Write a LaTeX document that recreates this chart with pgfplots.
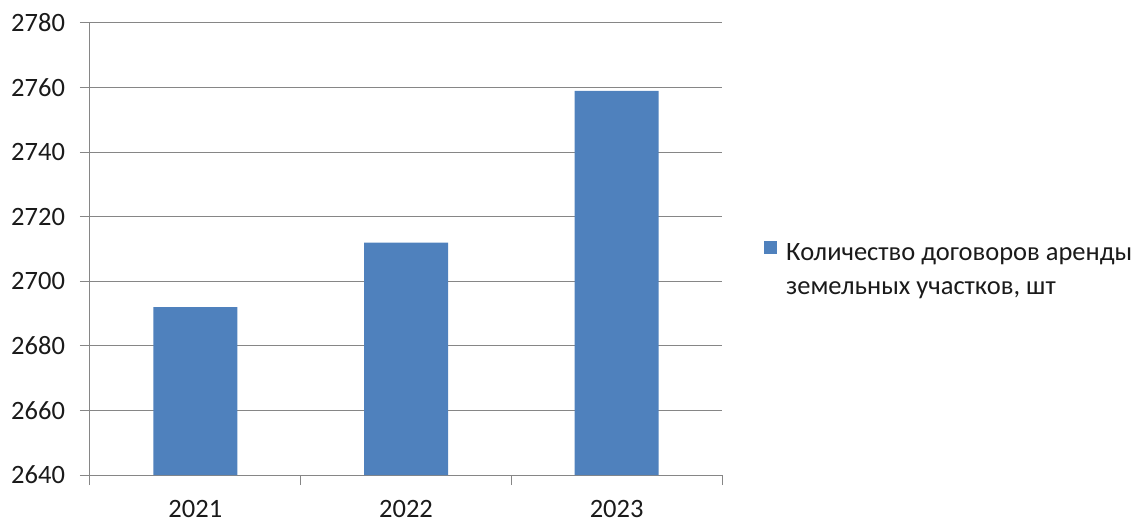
\documentclass[border=0pt]{standalone}
\usepackage{pgfplots}
\pgfplotsset{compat=1.18}
\usepackage{fontspec}
\setmainfont{Carlito}
\definecolor{barblue}{HTML}{4F81BD}
\definecolor{gridgray}{HTML}{868686}
\definecolor{txt}{HTML}{1A1A1A}
\begin{document}
\fontsize{26.5}{34}\selectfont
\begin{tikzpicture}
\begin{axis}[
  scale only axis,
  width=632pt, height=452pt,
  ybar, bar width=84pt,
  xmin=-0.5, xmax=2.5,
  ymin=2640, ymax=2780,
  ytick={2640,2660,...,2780},
  xtick={0,1,2},
  xticklabels={2021,2022,2023},
  minor xtick={-0.5,0.5,1.5,2.5},
  major x tick style={draw=none},
  minor tick length=10pt,
  major tick length=10pt,
  tick align=outside,
  axis x line*=bottom, axis y line*=left,
  axis line style={gridgray, line width=1pt, -},
  tick style={gridgray, line width=1pt},
  ymajorgrids, grid style={gridgray, line width=1pt},
  y tick label style={/pgf/number format/assume math mode=true, /pgf/number format/1000 sep={}, xshift=-6pt, text=txt},
  x tick label style={yshift=-6pt, text=txt},
  legend image code/.code={\fill[#1] (0pt,-4pt) rectangle (13pt,9pt);},
  legend cell align=left,
  legend style={draw=none, fill=none, inner sep=0pt, at={(axis description cs:1.0665,0.533)}, anchor=north west, text=txt, column sep=0pt},
]
\addplot[fill=barblue, draw=none] coordinates {(0,2692) (1,2712) (2,2759)};
\addlegendentry{\begin{tabular}[t]{@{\hspace{7pt}}l@{}}Количество договоров аренды\\земельных участков, шт\end{tabular}}
\end{axis}
\path[use as bounding box] (current axis.south west) ++(-90pt,-44pt) rectangle ++(1137pt,519pt);
\end{tikzpicture}
\end{document}
